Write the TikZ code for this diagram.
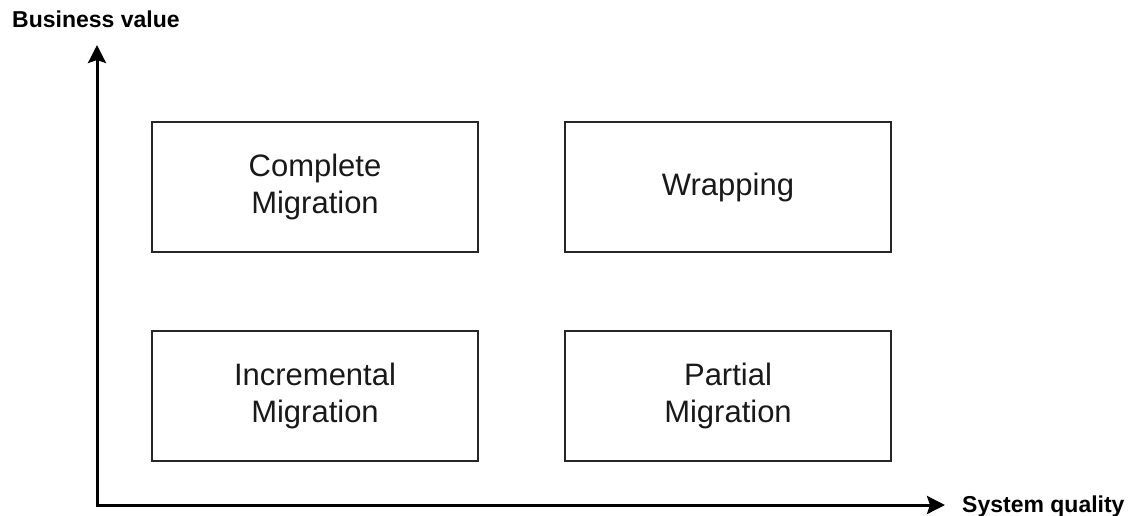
\documentclass[tikz,border=0pt]{standalone}
\usepackage{fontspec}
\setmainfont{Liberation Sans}
\usepackage{tikz}
\usetikzlibrary{arrows.meta,positioning}
\tikzset{
  quad/.style    = {draw=black!85,line width=1.3pt,minimum width=326pt,
                     minimum height=130pt,align=center,inner sep=0pt,
                     font=\fontsize{31}{37}\selectfont,text=black!90},
  axis/.style    = {{Stealth[length=18pt,width=18pt,inset=3pt]}-{Stealth[length=18pt,width=18pt,inset=3pt]},
                     line width=3pt,line join=miter,draw=black},
  axislbl/.style = {font=\fontsize{23}{27}\selectfont\bfseries,inner sep=0pt},
}
\begin{document}
\begin{tikzpicture}[x=1pt,y=-1pt]
  \useasboundingbox (0,0) rectangle (1135,515);

  % Quadrants
  \node[quad] (cm) at (315,187) {Complete\\Migration};
  \node[quad] (wr) at (728,187) {Wrapping};
  \node[quad] (im) at (315,396) {Incremental\\Migration};
  \node[quad] (pm) at (728,396) {Partial\\Migration};

  % Axes
  \coordinate (origin) at (97,505);
  \coordinate (ytip) at (97,45);
  \coordinate (xtip) at (945,505);
  \draw[axis] (ytip) -- (origin) -- (xtip);

  % Axis labels
  \node[axislbl,anchor=base west] (ylbl) at (12,27) {Business value};
  \node[axislbl,anchor=base west] (xlbl) at (962,512) {System quality};
\end{tikzpicture}
\end{document}
